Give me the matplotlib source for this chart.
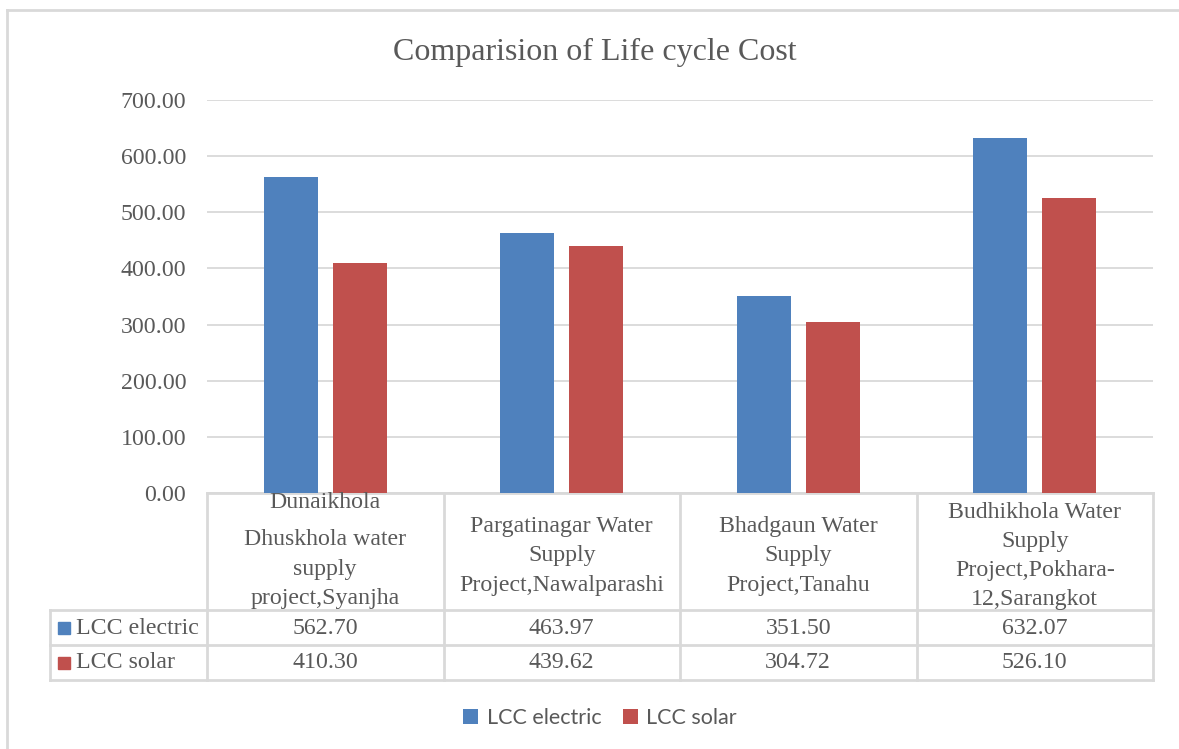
import matplotlib
matplotlib.use("Agg")
import matplotlib.pyplot as plt
from matplotlib.patches import Rectangle
from matplotlib.lines import Line2D
from matplotlib.transforms import blended_transform_factory
import numpy as np

# data
projects = [
    "Dunaikhola\nDhuskhola water\nsupply\nproject,Syanjha",
    "Pargatinagar Water\nSupply\nProject,Nawalparashi",
    "Bhadgaun Water\nSupply\nProject,Tanahu",
    "Budhikhola Water\nSupply\nProject,Pokhara-\n12,Sarangkot",
]
series = ["LCC electric", "LCC solar"]
lcc_electric = [562.70, 463.97, 351.50, 632.07]
lcc_solar = [410.30, 439.62, 304.72, 526.10]
yticks = [0, 100, 200, 300, 400, 500, 600, 700]

C_BLUE = "#4F81BD"
C_RED = "#C0504D"
C_GRID = "#D9D9D9"
C_TXT = "#595959"
SERIF = "Liberation Serif"
FS = 17.2

W, H = 1179, 749
fig = plt.figure(figsize=(W / 100, H / 100), dpi=100)

# plot area in pixels
L, R, T, B = 207, 1153, 100, 493
ax = fig.add_axes([L / W, 1 - B / H, (R - L) / W, (B - T) / H])


def ax_x(px):
    return (px - L) / (R - L)


def ax_y(py):
    return (B - py) / (B - T)


# outer chart frame (cropped in the original)
fig.add_artist(Line2D([7 / W, 7 / W], [0, 1 - 10 / H], color=C_GRID, lw=2))
fig.add_artist(Line2D([7 / W, 1], [1 - 10 / H, 1 - 10 / H], color=C_GRID, lw=2))

x = np.arange(len(projects))
bw = 0.228
off = 0.145
b1 = ax.bar(x - off, lcc_electric, bw, color=C_BLUE, zorder=3, label=series[0])
b2 = ax.bar(x + off, lcc_solar, bw, color=C_RED, zorder=3, label=series[1])

ax.set_xlim(-0.5, len(projects) - 0.5)
ax.set_ylim(0, 700)
ax.set_yticks(yticks)
ax.set_yticklabels([f"{v:.2f}" for v in yticks], fontsize=FS, family=SERIF, color=C_TXT)
ax.tick_params(axis="y", length=0, pad=15)
ax.set_xticks([])
ax.grid(axis="y", color=C_GRID, lw=1.3, zorder=0)
for s in ax.spines.values():
    s.set_visible(False)

fig.text(595 / W, 1 - 52 / H, "Comparision of Life cycle Cost", ha="center",
         va="center", fontsize=23, family=SERIF, color=C_TXT)

# data table under the plot
bt = blended_transform_factory(ax.transData, ax.transAxes)
lkw = dict(color=C_GRID, lw=2, clip_on=False, zorder=1)
ax.plot([0, 1], [ax_y(493)] * 2, transform=ax.transAxes, **lkw)
for py in [610, 645, 680]:
    ax.plot([ax_x(50), 1], [ax_y(py)] * 2, transform=ax.transAxes, **lkw)
ax.plot([ax_x(50)] * 2, [ax_y(610), ax_y(680)], transform=ax.transAxes, **lkw)
for xb in np.arange(len(projects) + 1) - 0.5:
    ax.plot([xb, xb], [ax_y(493), ax_y(680)], transform=bt, **lkw)

tkw = dict(transform=bt, ha="center", va="center", fontsize=FS, family=SERIF,
           color=C_TXT, linespacing=1.52, clip_on=False)
for i, lab in enumerate(projects):
    if i == 0:
        # first cell has an extra gap after its first line
        head, rest = lab.split("\n", 1)
        ax.text(i, ax_y(503), head, **tkw)
        ax.text(i, ax_y(569), rest, **tkw)
    else:
        ax.text(i, ax_y(556), lab, **tkw)
    ax.text(i, ax_y(628), f"{lcc_electric[i]:.2f}", **tkw)
    ax.text(i, ax_y(663), f"{lcc_solar[i]:.2f}", **tkw)

for name, col, py in [(series[0], C_BLUE, 628), (series[1], C_RED, 663)]:
    ax.add_patch(Rectangle((ax_x(58), ax_y(py + 6)), 12 / (R - L), 12 / (B - T),
                           transform=ax.transAxes, color=col, clip_on=False))
    ax.text(ax_x(76), ax_y(py), name, transform=ax.transAxes, ha="left",
            va="center", fontsize=FS, family=SERIF, color=C_TXT)

fig.legend(handles=[b1, b2], labels=series, loc="center", ncol=2,
           bbox_to_anchor=(600 / W, 1 - 718 / H), frameon=False,
           prop=dict(family="Lato", size=15.5), labelcolor=C_TXT,
           handlelength=0.7, handleheight=0.7, handletextpad=0.4, columnspacing=1.0)

fig.savefig("out.png", dpi=100, facecolor="white")
